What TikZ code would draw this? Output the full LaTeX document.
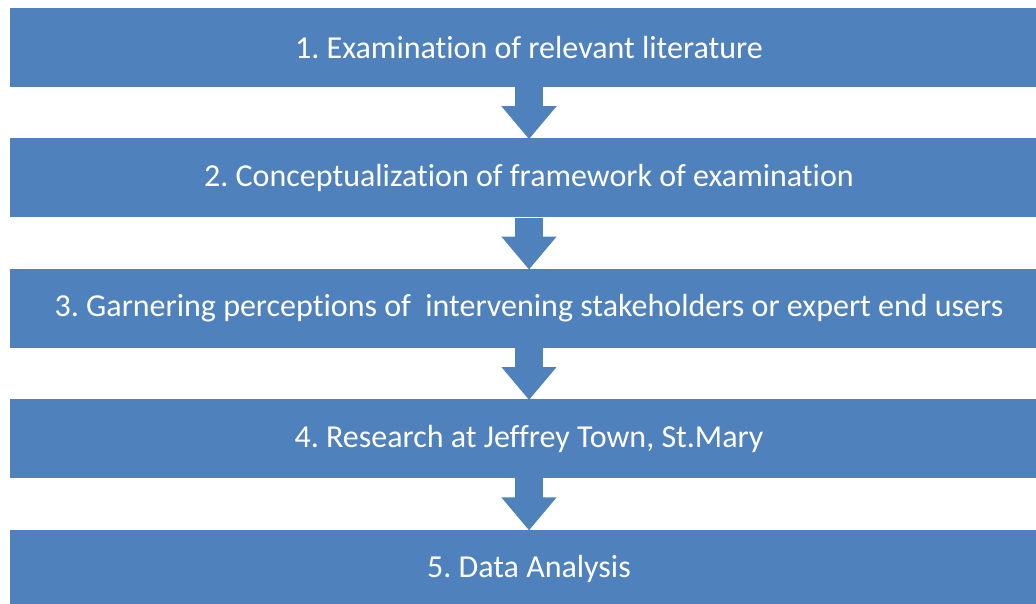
\documentclass[tikz,border=0pt]{standalone}
\usepackage{fontspec}
\setmainfont{Carlito}[Ligatures=NoCommon]
\usetikzlibrary{arrows.meta, positioning}
\definecolor{boxblue}{HTML}{4F81BD}
\frenchspacing

\begin{document}
\begin{tikzpicture}[x=1pt, y=1pt,
    phase/.style={rectangle, fill=boxblue, draw=none, text=white,
      minimum width=1038pt, minimum height=79pt, inner sep=0pt,
      align=center, font=\fontsize{32}{38}\selectfont},
    flow/.style={-{Triangle[width=53pt, length=33pt]}, line width=28pt, boxblue},
  ]
  \useasboundingbox (0,0) rectangle (1036,-603);
  % the five steps, top to bottom
  \node[phase] (lit) at (529,-47.5) {1. Examination of relevant literature};
  \node[phase, below=51pt of lit] (frame) {2. Conceptualization of framework of examination};
  \node[phase, below=51pt of frame] (percep) {3. Garnering perceptions of~ intervening stakeholders or expert end users};
  \node[phase, below=51pt of percep] (site) {4. Research at Jeffrey Town, St.Mary};
  \node[phase, below=51pt of site] (anal) {5. Data Analysis};
  % block arrows between steps
  \draw[flow] (lit.south) -- ([yshift=-1pt]frame.north);
  \draw[flow] (frame.south) -- ([yshift=-1pt]percep.north);
  \draw[flow] (percep.south) -- ([yshift=-1pt]site.north);
  \draw[flow] (site.south) -- ([yshift=-1pt]anal.north);
\end{tikzpicture}
\end{document}
